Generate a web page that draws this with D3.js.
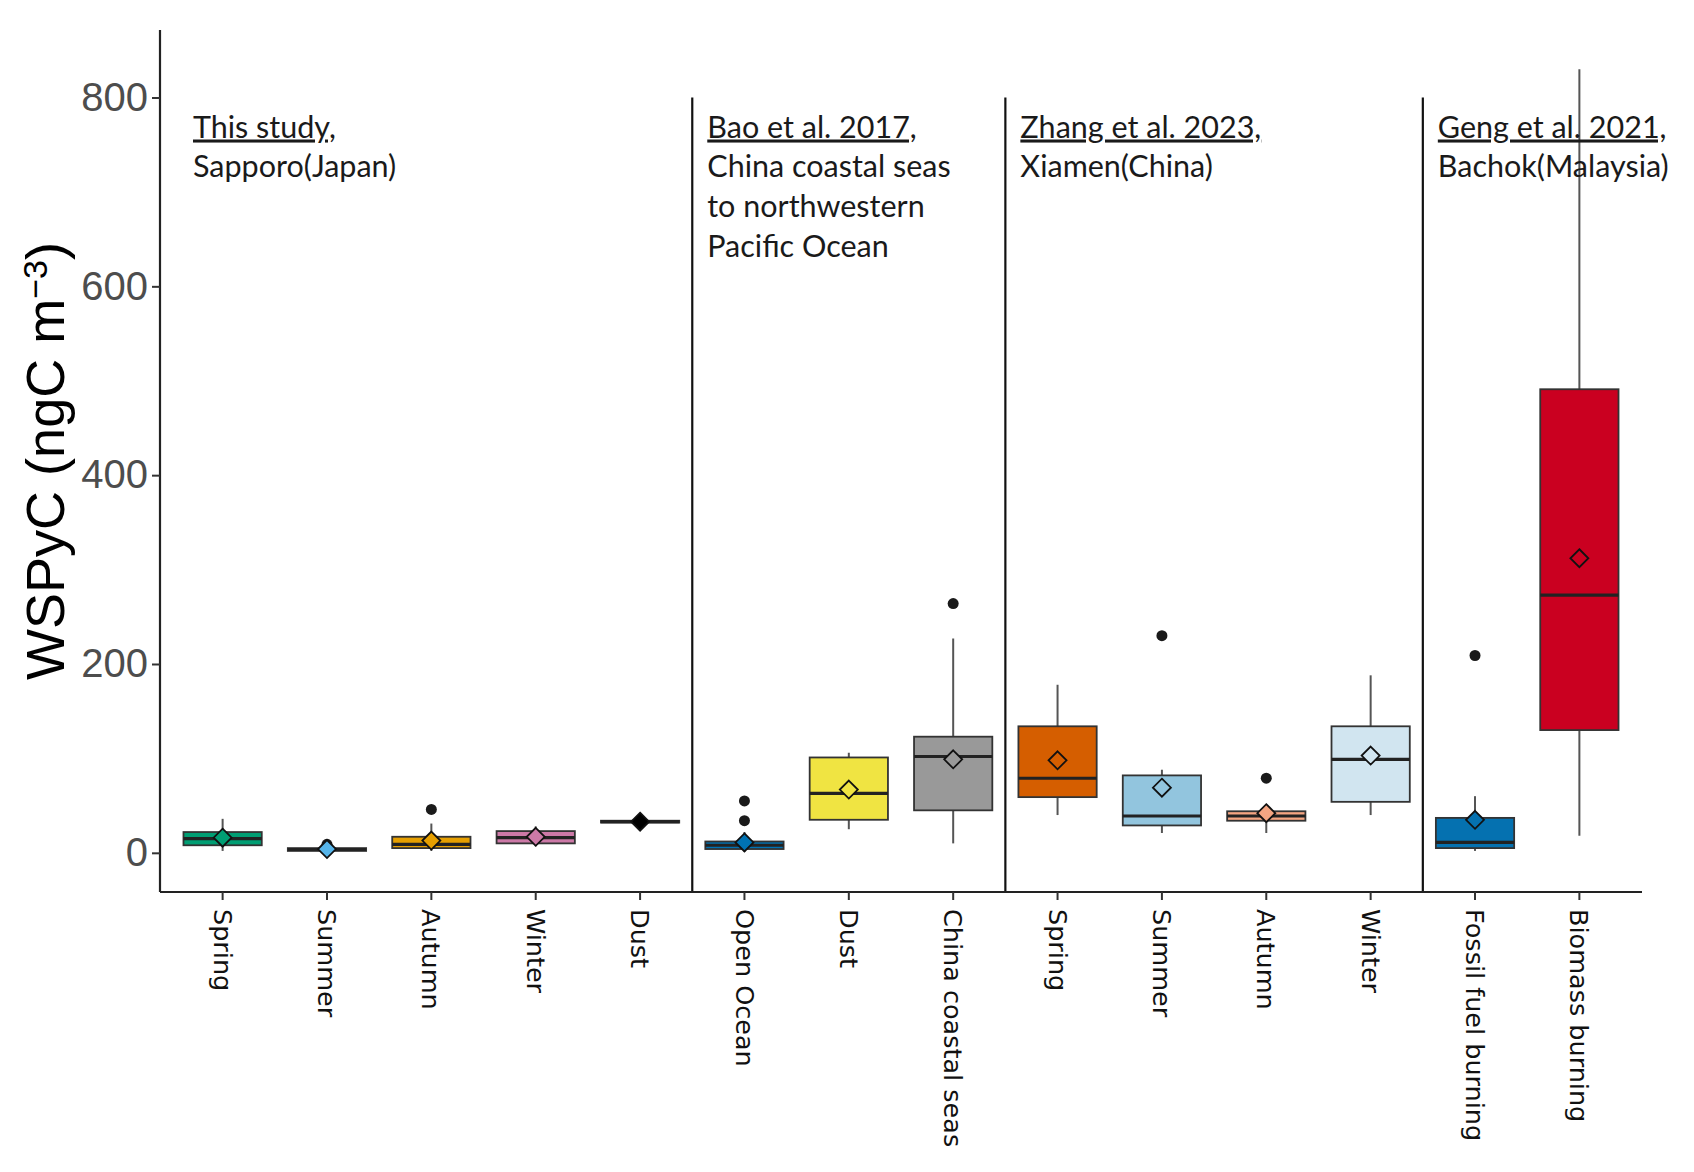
<!DOCTYPE html>
<html>
<head>
<meta charset="utf-8">
<script src="https://cdn.jsdelivr.net/npm/d3@7"></script>
<style>
  body { margin: 0; background: #fff; }
  svg { display: block; }
</style>
</head>
<body>
<div id="chart"></div>
<script>
// categories along the x axis (left to right)
const categories = ["Spring", "Summer", "Autumn", "Winter", "Dust",
    "Open Ocean", "Dust", "China coastal seas",
    "Spring", "Summer", "Autumn", "Winter",
    "Fossil fuel burning", "Biomass burning"];

// box statistics (ngC m-3)
const whiskerLow  = [2, 0.5, 2, 7, 32, 1, 25, 10, 40, 21, 21, 40, 2, 18];
const q1Values    = [8, 2, 5, 10, 32, 4, 35, 45, 59, 29, 34, 54, 5, 130];
const medianValues = [15, 3.5, 9, 16, 33, 8, 63, 102, 79, 39, 39, 99, 11, 273];
const q3Values    = [22, 5, 17, 23, 34, 12, 101, 123, 134, 82, 44, 134, 37, 491];
const whiskerHigh = [36, 7, 31, 28, 34, 22, 106, 227, 178, 88, 49, 188, 60, 830];
const meanValues  = [16, 4, 13, 17, 33, 11, 67, 99, 98, 69, 42, 103, 35, 312];
const outliers    = [[], [9], [46], [], [], [34, 55], [], [264], [], [230], [79], [], [209], []];

const boxColors = ["#009E73", "#56B4E9", "#E69F00", "#CC79A7", "#000000",
    "#0072B2", "#F0E442", "#999999",
    "#D55E00", "#92C5DE", "#F4A582", "#D1E5F0",
    "#0571B0", "#CA0020"];

const yTicks = [0, 200, 400, 600, 800];

// study blocks: first category index of each block, heading and place lines
const blockStarts = [0, 5, 8, 12];
const blockHeads = ["This study,", "Bao et al. 2017,", "Zhang et al. 2023,", "Geng et al. 2021,"];
const blockPlaces = [["Sapporo(Japan)"],
    ["China coastal seas", "to northwestern", "Pacific Ocean"],
    ["Xiamen(China)"],
    ["Bachok(Malaysia)"]];

const width = 1694, height = 1172;
const margin = {top: 30, right: 52, bottom: 280, left: 160};

const svg = d3.select("#chart")
    .append("svg")
    .attr("width", width)
    .attr("height", height);

const x = d3.scaleBand()
    .domain(d3.range(categories.length))
    .range([margin.left, width - margin.right])
    .paddingInner(0.25)
    .paddingOuter(0.225);

// ggplot style 5% expansion around data range
const dataMin = 0, dataMax = 830;
const pad = (dataMax - dataMin) * 0.05;
const y = d3.scaleLinear()
    .domain([dataMin - pad, dataMax + pad])
    .range([height - margin.bottom, margin.top]);

const bw = x.bandwidth();
const cx = i => x(i) + bw / 2;

// group dividers
const dividerIdx = blockStarts.slice(1);
svg.selectAll("line.divider")
    .data(dividerIdx)
    .join("line")
    .attr("class", "divider")
    .attr("x1", i => x(i) - x.step() * 0.125)
    .attr("x2", i => x(i) - x.step() * 0.125)
    .attr("y1", y(800))
    .attr("y2", y.range()[0])
    .attr("stroke", "#111")
    .attr("stroke-width", 2.2);

const boxes = svg.append("g")
    .selectAll("g")
    .data(d3.range(categories.length))
    .join("g");

// whiskers
boxes.append("line")
    .attr("x1", cx).attr("x2", cx)
    .attr("y1", i => y(whiskerLow[i]))
    .attr("y2", i => y(whiskerHigh[i]))
    .attr("stroke", "#555")
    .attr("stroke-width", 2);

// boxes
boxes.append("rect")
    .attr("x", i => x(i))
    .attr("width", bw)
    .attr("y", i => y(q3Values[i]))
    .attr("height", i => Math.max(1, y(q1Values[i]) - y(q3Values[i])))
    .attr("fill", (i) => boxColors[i])
    .attr("stroke", "#333")
    .attr("stroke-width", 1.8);

// medians
boxes.append("line")
    .attr("x1", i => x(i)).attr("x2", i => x(i) + bw)
    .attr("y1", i => y(medianValues[i]))
    .attr("y2", i => y(medianValues[i]))
    .attr("stroke", "#222")
    .attr("stroke-width", 3.2);

// outliers
boxes.each(function(i) {
    d3.select(this).selectAll("circle")
        .data(outliers[i])
        .join("circle")
        .attr("cx", cx(i))
        .attr("cy", v => y(v))
        .attr("r", 5.5)
        .attr("fill", "#1a1a1a");
});

// mean diamonds
const dSize = 9;
boxes.append("path")
    .attr("d", i => {
        const px = cx(i), py = y(meanValues[i]);
        return `M${px},${py - dSize} L${px + dSize},${py} L${px},${py + dSize} L${px - dSize},${py} Z`;
    })
    .attr("fill", i => boxColors[i])
    .attr("stroke", "#111")
    .attr("stroke-width", 1.8);

// axes
const yAxis = svg.append("g")
    .attr("transform", `translate(${margin.left},0)`)
    .call(d3.axisLeft(y).tickValues(yTicks).tickSize(8).tickPadding(4));

yAxis.select(".domain")
    .attr("d", `M0,${y.range()[1]}V${y.range()[0]}`)
    .attr("stroke", "#222")
    .attr("stroke-width", 2.2);
yAxis.selectAll(".tick line").attr("stroke", "#333").attr("stroke-width", 2);
yAxis.selectAll(".tick text")
    .attr("fill", "#4d4d4d")
    .attr("font-family", "Liberation Sans, Arial, sans-serif")
    .attr("font-size", 40);

const xAxis = svg.append("g")
    .attr("transform", `translate(0,${y.range()[0]})`)
    .call(d3.axisBottom(x).tickFormat(i => categories[i]).tickSize(8));

xAxis.select(".domain")
    .attr("d", `M${margin.left},0H${width - margin.right}`)
    .attr("stroke", "#222")
    .attr("stroke-width", 2.2);
xAxis.selectAll(".tick line").attr("stroke", "#333").attr("stroke-width", 2);
xAxis.selectAll(".tick text")
    .attr("fill", "#111")
    .attr("font-family", "DejaVu Sans, sans-serif")
    .attr("font-size", 25.5)
    .attr("text-anchor", "start")
    .attr("x", 17)
    .attr("y", 0)
    .attr("dy", "0.35em")
    .attr("transform", "rotate(90)");

// y title
const title = svg.append("text")
    .attr("transform", `translate(64,${(y.range()[0] + y.range()[1]) / 2}) rotate(-90)`)
    .attr("text-anchor", "middle")
    .attr("font-family", "Liberation Sans, Arial, sans-serif")
    .attr("font-size", 54)
    .attr("fill", "#000");
title.append("tspan").text("WSPyC (ngC m");
title.append("tspan").attr("font-size", 34).attr("dy", -17).text("\u22123");
title.append("tspan").attr("dy", 17).text(")");

// study annotations
const lineGap = 39.7;
blockStarts.forEach((s, k) => {
    const tx = k === 0 ? margin.left + 33 : x(s) - x.step() * 0.125 + 15;
    const ty = y(800) + 40;
    const t = svg.append("text")
        .attr("font-family", "Lato, Open Sans, sans-serif")
        .attr("font-size", 30.5)
        .attr("fill", "#1a1a1a");
    t.append("tspan")
        .attr("x", tx).attr("y", ty)
        .attr("text-decoration", "underline")
        .text(blockHeads[k]);
    blockPlaces[k].forEach((line, j) => {
        t.append("tspan")
            .attr("x", tx).attr("y", ty + lineGap * (j + 1))
            .text(line);
    });
});
</script>
</body>
</html>
